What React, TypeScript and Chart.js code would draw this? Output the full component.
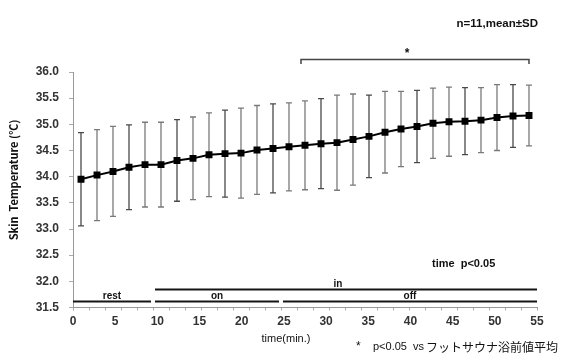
import React, { useEffect, useRef } from 'react';
import { Chart, registerables } from 'chart.js';

Chart.register(...registerables);

// Measurement number (one sample about every 2 minutes)
const sampleNo = [
  '1', '2', '3', '4', '5', '6', '7', '8', '9', '10',
  '11', '12', '13', '14', '15', '16', '17', '18', '19', '20',
  '21', '22', '23', '24', '25', '26', '27', '28', '29',
];

// Skin temperature, mean and SD (°C), n = 11
const meanTemp = [
  33.95, 34.03, 34.1, 34.18, 34.23, 34.23, 34.31, 34.35, 34.42, 34.44,
  34.45, 34.51, 34.54, 34.57, 34.6, 34.63, 34.65, 34.71, 34.77, 34.85,
  34.91, 34.96, 35.02, 35.05, 35.06, 35.08, 35.13, 35.16, 35.17,
];
const sdTemp = [
  0.89, 0.87, 0.86, 0.81, 0.81, 0.81, 0.78, 0.79, 0.8, 0.83,
  0.86, 0.85, 0.85, 0.84, 0.85, 0.86, 0.91, 0.87, 0.79, 0.78,
  0.72, 0.69, 0.67, 0.66, 0.64, 0.62, 0.63, 0.6, 0.58,
];

// Time axis (min.)
const timeMin = 0;
const timeMax = 55;
const timeStep = 5;

// Temperature axis (°C)
const tempMin = 31.5;
const tempMax = 36.0;
const tempStep = 0.5;

// Protocol phases, given as first/last sample index; row 0 = lower bar
const phaseLabels = ['rest', 'on', 'off', 'in'];
const phaseFrom = [0, 5, 13, 5];
const phaseTo = [4, 12, 28, 28];
const phaseRow = [0, 0, 0, 1];

// Samples with p<0.05 vs the pre-bath mean
const sigFrom = 14;
const sigTo = 28;

const LATIN = '"Liberation Sans", Arial, sans-serif';
const JP = '"Noto Sans CJK JP", "Liberation Sans", sans-serif';

const errorBars = {
  id: 'errorBars',
  beforeDatasetsDraw(chart: any) {
    const meta = chart.getDatasetMeta(0);
    const y = chart.scales.y;
    const ctx = chart.ctx;
    ctx.save();
    ctx.lineWidth = 1.3;
    meta.data.forEach((pt: any, i: number) => {
      const top = y.getPixelForValue(meanTemp[i] + sdTemp[i]);
      const bot = y.getPixelForValue(meanTemp[i] - sdTemp[i]);
      ctx.strokeStyle = i % 3 === 0 ? '#4a4a4a' : '#7a7a7a';
      ctx.beginPath();
      ctx.moveTo(pt.x, top);
      ctx.lineTo(pt.x, bot);
      ctx.moveTo(pt.x - 3, top);
      ctx.lineTo(pt.x + 3, top);
      ctx.moveTo(pt.x - 3, bot);
      ctx.lineTo(pt.x + 3, bot);
      ctx.stroke();
    });
    ctx.restore();
  },
};

const annotations = {
  id: 'annotations',
  afterDraw(chart: any) {
    const { ctx, chartArea } = chart;
    const x = chart.scales.x;
    const band = x.getPixelForValue(1) - x.getPixelForValue(0);
    ctx.save();
    ctx.fillStyle = '#111';
    ctx.textBaseline = 'middle';

    // n / statistic note
    ctx.font = `bold 11.5px ${LATIN}`;
    ctx.textAlign = 'right';
    ctx.fillText('n=11,mean±SD', chartArea.right + 1, 24);

    // significance bracket
    const bl = x.getPixelForValue(sigFrom) - 4;
    const br = x.getPixelForValue(sigTo);
    const by = chartArea.top - 12.5;
    ctx.strokeStyle = '#444';
    ctx.lineWidth = 1.5;
    ctx.beginPath();
    ctx.moveTo(bl, by + 4.5);
    ctx.lineTo(bl, by);
    ctx.lineTo(br, by);
    ctx.lineTo(br, by + 4.5);
    ctx.stroke();
    ctx.textAlign = 'center';
    ctx.font = `bold 12px ${LATIN}`;
    ctx.fillText('*', (bl + br) / 2 - 8, by - 6);

    // time effect
    ctx.font = `bold 11px ${LATIN}`;
    ctx.textAlign = 'left';
    ctx.fillText('time  p<0.05', chartArea.left + 359, chartArea.bottom - 43.5);

    // protocol phase bars
    ctx.strokeStyle = '#151515';
    ctx.lineWidth = 2;
    ctx.font = `bold 10px ${LATIN}`;
    ctx.textAlign = 'center';
    phaseLabels.forEach((label, i) => {
      const l = x.getPixelForValue(phaseFrom[i]) - band / 2 + (phaseFrom[i] > 0 ? 2 : 0);
      const r = x.getPixelForValue(phaseTo[i]) + band / 2 - (phaseTo[i] < sampleNo.length - 1 ? 2 : 0);
      const ly = chartArea.bottom - 6 - phaseRow[i] * 12;
      ctx.beginPath();
      ctx.moveTo(l, ly);
      ctx.lineTo(r, ly);
      ctx.stroke();
      const cx = label === 'in' ? (l + r) / 2 - 8 : (l + r) / 2;
      ctx.fillText(label, cx, ly - 5.5);
    });

    // x axis title
    ctx.font = `11px ${LATIN}`;
    ctx.fillText('time(min.)', chartArea.left + 213, 339);

    // footnote
    ctx.textAlign = 'left';
    ctx.font = `12px ${LATIN}`;
    ctx.fillText('*', 356, 347);
    ctx.font = `11px ${LATIN}`;
    ctx.fillText('p<0.05  vs', 373, 347);
    ctx.font = `12px ${JP}`;
    ctx.fillText('フットサウナ浴前値平均', 426, 347);

    // y axis title
    ctx.translate(14, 180);
    ctx.rotate(-Math.PI / 2);
    ctx.textAlign = 'center';
    ctx.font = `bold 11px ${JP}`;
    ctx.fillText('Skin  Temperature (℃)', 0, 0);
    ctx.restore();
  },
};

export default function App() {
  const canvasRef = useRef<HTMLCanvasElement | null>(null);

  useEffect(() => {
    const canvas = canvasRef.current;
    if (!canvas) return;
    const tickFont = { family: LATIN, size: 12, weight: 'bold' as const };
    const chart = new Chart(canvas, {
      type: 'line',
      data: {
        labels: sampleNo,
        datasets: [
          {
            data: meanTemp,
            borderColor: '#000',
            borderWidth: 2,
            backgroundColor: '#000',
            pointStyle: 'rect',
            pointRadius: 3.5,
            pointBackgroundColor: '#000',
            pointBorderColor: '#000',
            tension: 0,
          },
        ],
      },
      options: {
        responsive: false,
        animation: false,
        events: [],
        layout: { padding: { top: 72, right: 27, bottom: 0, left: 0 } },
        plugins: {
          legend: { display: false },
          tooltip: { enabled: false },
        },
        scales: {
          x: {
            type: 'category',
            offset: true,
            ticks: { display: false },
            grid: { offset: true, drawOnChartArea: false, tickLength: 3, color: '#aaa' },
            border: { color: '#999', width: 1 },
            afterFit: (s: any) => {
              s.height = 4;
            },
          },
          x2: {
            type: 'linear',
            position: 'bottom',
            weight: 1,
            min: timeMin,
            max: timeMax,
            ticks: {
              stepSize: timeStep,
              font: tickFont,
              color: '#333',
              padding: -5,
              maxRotation: 0,
              autoSkip: false,
            },
            grid: { display: false },
            border: { display: false },
            afterFit: (s: any) => {
              s.height = 49.5;
            },
          },
          y: {
            min: tempMin,
            max: tempMax,
            ticks: {
              stepSize: tempStep,
              font: tickFont,
              color: '#333',
              padding: 10,
              callback: (v: any) => Number(v).toFixed(1),
            },
            grid: { drawOnChartArea: false, tickLength: 4, color: '#aaa' },
            border: { color: '#999', width: 1 },
            afterFit: (s: any) => {
              s.width = 73;
            },
          },
        },
      },
      plugins: [errorBars, annotations],
    });
    return () => chart.destroy();
  }, []);

  return (
    <div style={{ position: 'fixed', left: 0, top: 0, width: 564, height: 361, background: '#fff' }}>
      <canvas ref={canvasRef} width={564} height={361} />
    </div>
  );
}
